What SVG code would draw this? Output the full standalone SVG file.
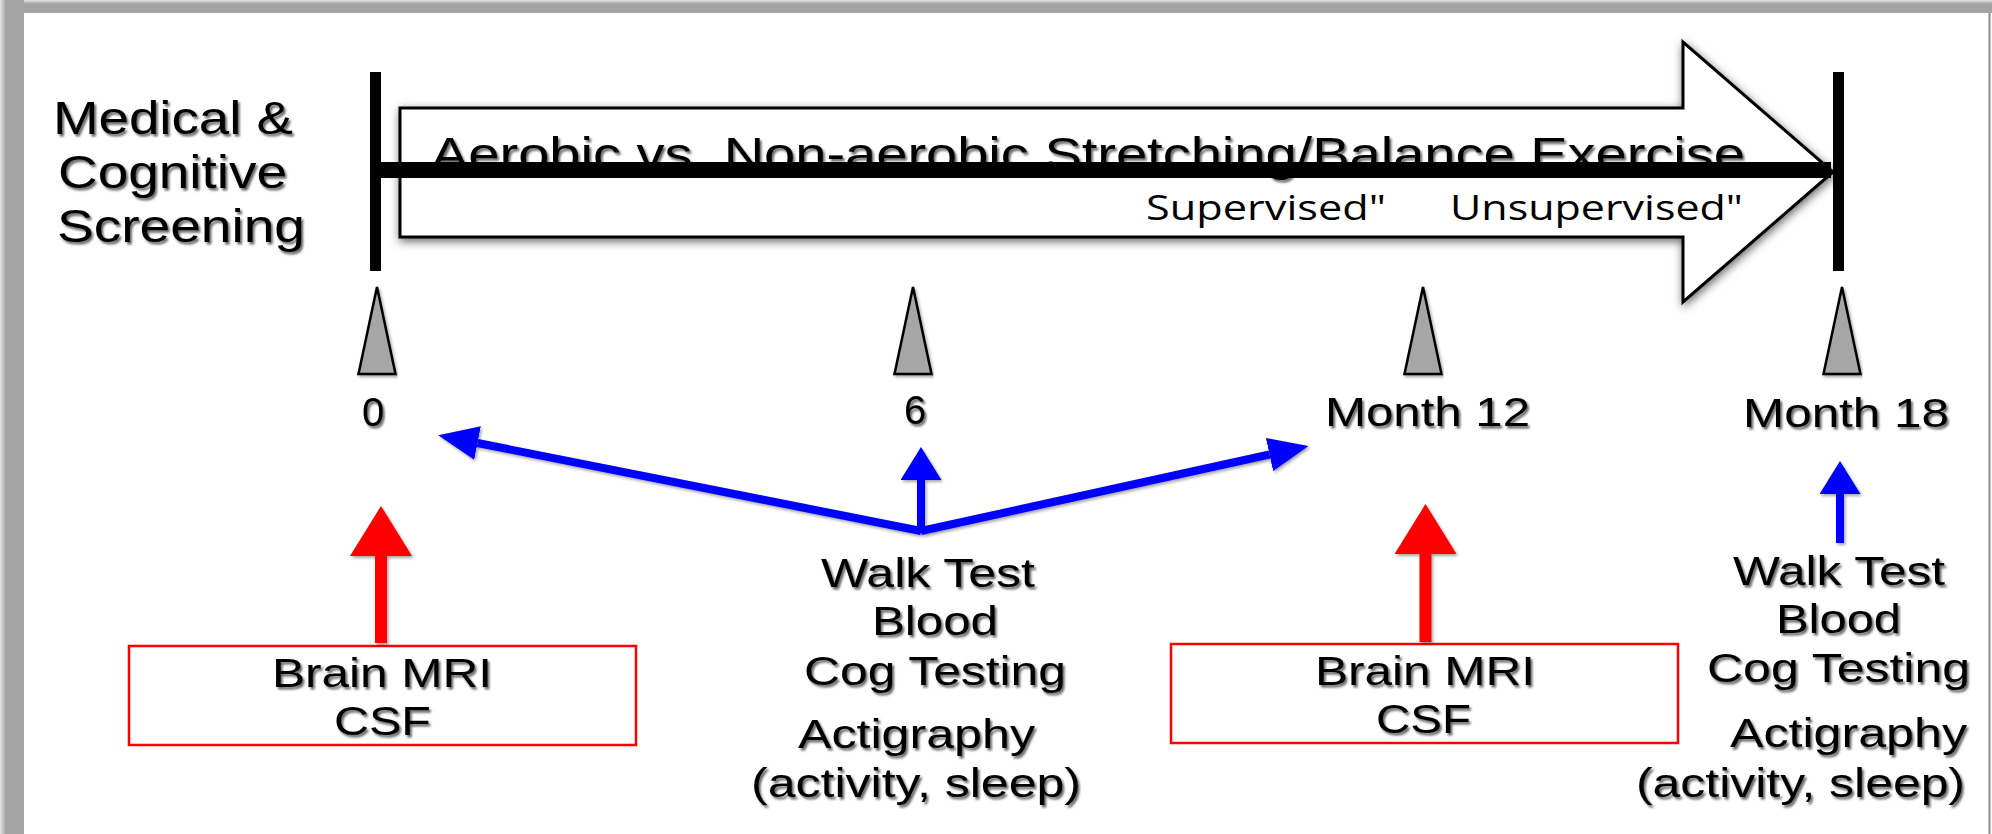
<svg xmlns="http://www.w3.org/2000/svg" width="1992" height="834" viewBox="0 0 1992 834">
  <style>
    .sans { font-family: "Liberation Sans", Arial, sans-serif; fill: #000; }
    .big { font-size: 46px; }
    .lbl { font-size: 40px; }
    .phase { font-family: "Open Sans", "Noto Sans", sans-serif; font-size: 35px; fill: #000; }
    .tick { fill: #a6a6a6; stroke: #000; stroke-width: 2.5; stroke-linejoin: miter; }
    .bar { fill: #000; }
    .blue { stroke: #0000ff; stroke-width: 8; fill: none; }
    .red { stroke: #ff0000; stroke-width: 12; fill: none; }
    .redbox { fill: #fff; stroke: #ff0000; stroke-width: 2.5; }
    .pre { white-space: pre; }
  </style>
  <defs>
    <linearGradient id="topBand" x1="0" y1="0" x2="0" y2="1">
      <stop offset="0" stop-color="#e4e4e4"/>
      <stop offset="0.3" stop-color="#a4a4a4"/>
      <stop offset="1" stop-color="#a4a4a4"/>
    </linearGradient>
    <linearGradient id="leftBand" x1="0" y1="0" x2="1" y2="0">
      <stop offset="0" stop-color="#e4e4e4"/>
      <stop offset="0.25" stop-color="#a4a4a4"/>
      <stop offset="1" stop-color="#a4a4a4"/>
    </linearGradient>
    <filter id="textShadow" x="-5%" y="-20%" width="110%" height="140%">
      <feDropShadow dx="2" dy="2.5" stdDeviation="1.3" flood-color="#000" flood-opacity="0.6"/>
    </filter>
    <filter id="shapeShadow" x="-10%" y="-20%" width="120%" height="140%">
      <feGaussianBlur in="SourceAlpha" stdDeviation="5"/>
      <feOffset dx="1" dy="3" result="blur"/>
      <feFlood flood-color="#000" flood-opacity="0.6"/>
      <feComposite in2="blur" operator="in"/>
      <feMerge><feMergeNode/><feMergeNode in="SourceGraphic"/></feMerge>
    </filter>
    <filter id="lineShadow" x="-5%" y="-20%" width="110%" height="140%">
      <feDropShadow dx="1.5" dy="2" stdDeviation="1.5" flood-color="#000" flood-opacity="0.35"/>
    </filter>
    <marker id="blueHeadD" markerUnits="userSpaceOnUse" viewBox="0 0 40 34" markerWidth="40" markerHeight="34" refX="0" refY="17" orient="auto">
      <path d="M0,0 L40,17 L0,34 z" fill="#0000ff"/>
    </marker>
    <marker id="blueHeadV" markerUnits="userSpaceOnUse" viewBox="0 0 33 41" markerWidth="33" markerHeight="41" refX="0" refY="20.5" orient="auto">
      <path d="M0,0 L33,20.5 L0,41 z" fill="#0000ff"/>
    </marker>
    <marker id="redHead" markerUnits="userSpaceOnUse" viewBox="0 0 50 62" markerWidth="50" markerHeight="62" refX="0" refY="31" orient="auto">
      <path d="M0,0 L50,31 L0,62 z" fill="#ff0000"/>
    </marker>
  </defs>

  <!-- slide background and border -->
  <g id="frame">
    <rect x="0" y="0" width="1992" height="834" fill="#fff"/>
    <rect x="0" y="0" width="1992" height="13" fill="url(#topBand)"/>
    <rect x="0" y="0" width="24" height="834" fill="url(#leftBand)"/>
    <line x1="1989.5" y1="13" x2="1989.5" y2="834" stroke="#8c8c8c" stroke-width="2"/>
  </g>

  <!-- screening label -->
  <g id="screening" class="sans big" filter="url(#textShadow)">
    <text x="53" y="134" textLength="240" lengthAdjust="spacingAndGlyphs">Medical &amp;</text>
    <text x="58" y="188" textLength="229" lengthAdjust="spacingAndGlyphs">Cognitive</text>
    <text x="57" y="242" textLength="248" lengthAdjust="spacingAndGlyphs">Screening</text>
  </g>

  <!-- intervention block arrow -->
  <g id="exercise-arrow">
    <path d="M400,108 L1683,108 L1683,42 L1833,172 L1683,302 L1683,237 L400,237 Z" fill="#fff" stroke="#000" stroke-width="3" stroke-linejoin="miter" filter="url(#shapeShadow)"/>
    <text class="sans big pre" x="431" y="170" textLength="1314" lengthAdjust="spacingAndGlyphs" filter="url(#textShadow)">Aerobic vs  Non-aerobic Stretching/Balance Exercise</text>
    <text class="phase" x="1146" y="220" textLength="240" lengthAdjust="spacingAndGlyphs">Supervised"</text>
    <text class="phase" x="1450" y="220" textLength="293" lengthAdjust="spacingAndGlyphs">Unsupervised"</text>
  </g>

  <!-- timeline axis -->
  <g id="timeline">
    <rect class="bar" x="370" y="72" width="11" height="199"/>
    <rect class="bar" x="1833" y="72" width="11" height="199"/>
    <rect class="bar" x="375" y="162" width="1456" height="16"/>
  </g>

  <!-- visit markers -->
  <g id="visit-0">
    <polygon class="tick" points="377,287 358.5,374 395.5,374" filter="url(#lineShadow)"/>
    <text class="sans lbl" x="373" y="426" text-anchor="middle" filter="url(#textShadow)">0</text>
  </g>
  <g id="visit-6">
    <polygon class="tick" points="913,287 894.5,374 931.5,374" filter="url(#lineShadow)"/>
    <text class="sans lbl" x="915" y="424" text-anchor="middle" filter="url(#textShadow)">6</text>
  </g>
  <g id="visit-12">
    <polygon class="tick" points="1423,287 1404.5,374 1441.5,374" filter="url(#lineShadow)"/>
    <text class="sans lbl" x="1325" y="426" textLength="205" lengthAdjust="spacingAndGlyphs" filter="url(#textShadow)">Month 12</text>
  </g>
  <g id="visit-18">
    <polygon class="tick" points="1842,287 1823.5,374 1860.5,374" filter="url(#lineShadow)"/>
    <text class="sans lbl" x="1743" y="427" textLength="206" lengthAdjust="spacingAndGlyphs" filter="url(#textShadow)">Month 18</text>
  </g>

  <!-- imaging boxes -->
  <g id="imaging-0">
    <rect class="redbox" x="129" y="646" width="507" height="99"/>
    <g class="sans lbl" filter="url(#textShadow)">
      <text x="272" y="687" textLength="220" lengthAdjust="spacingAndGlyphs">Brain MRI</text>
      <text x="334" y="735" textLength="97" lengthAdjust="spacingAndGlyphs">CSF</text>
    </g>
  </g>
  <g id="imaging-12">
    <rect class="redbox" x="1171" y="644" width="507" height="99"/>
    <g class="sans lbl" filter="url(#textShadow)">
      <text x="1315" y="685" textLength="220" lengthAdjust="spacingAndGlyphs">Brain MRI</text>
      <text x="1376" y="733" textLength="95" lengthAdjust="spacingAndGlyphs">CSF</text>
    </g>
  </g>

  <!-- functional assessments -->
  <g id="assess-6" class="sans lbl" filter="url(#textShadow)">
    <text x="821" y="587" textLength="214" lengthAdjust="spacingAndGlyphs">Walk Test</text>
    <text x="872" y="635" textLength="126" lengthAdjust="spacingAndGlyphs">Blood</text>
    <text x="804" y="685" textLength="262" lengthAdjust="spacingAndGlyphs">Cog Testing</text>
    <text x="798" y="748" textLength="237" lengthAdjust="spacingAndGlyphs">Actigraphy</text>
    <text x="751" y="797" textLength="330" lengthAdjust="spacingAndGlyphs">(activity, sleep)</text>
  </g>
  <g id="assess-18" class="sans lbl" filter="url(#textShadow)">
    <text x="1733" y="585" textLength="212" lengthAdjust="spacingAndGlyphs">Walk Test</text>
    <text x="1776" y="633" textLength="125" lengthAdjust="spacingAndGlyphs">Blood</text>
    <text x="1707" y="682" textLength="263" lengthAdjust="spacingAndGlyphs">Cog Testing</text>
    <text x="1730" y="747" textLength="237" lengthAdjust="spacingAndGlyphs">Actigraphy</text>
    <text x="1636" y="797" textLength="329" lengthAdjust="spacingAndGlyphs">(activity, sleep)</text>
  </g>

  <!-- connectors -->
  <g id="connectors" filter="url(#lineShadow)">
    <line class="blue" x1="921" y1="531" x2="477.5" y2="443" marker-end="url(#blueHeadD)"/>
    <line class="blue" x1="921" y1="531" x2="1269.5" y2="454.5" marker-end="url(#blueHeadD)"/>
    <line class="blue" x1="921" y1="533" x2="921" y2="480" marker-end="url(#blueHeadV)"/>
    <line class="blue" x1="1840" y1="543" x2="1840" y2="494" marker-end="url(#blueHeadV)"/>
    <line class="red" x1="381" y1="643" x2="381" y2="556" marker-end="url(#redHead)"/>
    <line class="red" x1="1425.5" y1="642" x2="1425.5" y2="554" marker-end="url(#redHead)"/>
  </g>
</svg>
